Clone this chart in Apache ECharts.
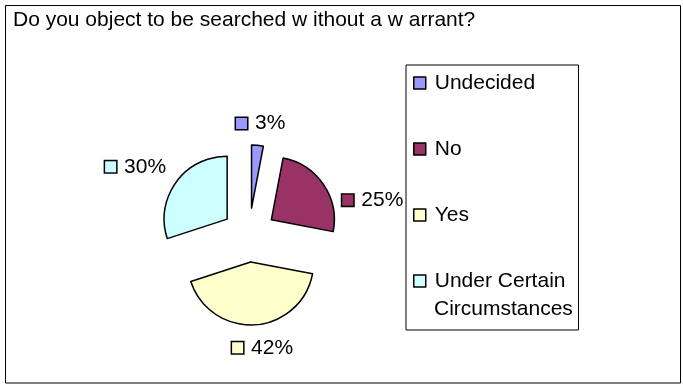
<!DOCTYPE html>
<html>
<head>
<meta charset="utf-8">
<script src="https://cdn.jsdelivr.net/npm/echarts@6/dist/echarts.min.js"></script>
<style>
  html, body { margin: 0; padding: 0; background: #fff; }
  #chart { width: 683px; height: 386px; }
</style>
</head>
<body>
<div id="chart"></div>
<script>
// Survey answers and their shares (percent)
const categories = ['Undecided', 'No', 'Yes', 'Under Certain\nCircumstances'];
const values = [3, 25, 42, 30];
const colors = ['#9999FF', '#993366', '#FFFFCC', '#CCFFFF'];
const titleText = 'Do you object to be searched w ithout a w arrant?';

const FONT = "'Liberation Sans', Arial, sans-serif";

// Where each percentage label sits relative to its exploded slice:
// radial reach beyond the rim, and horizontal nudge from that point.
const labelReach = [22, -28, 23, 26];
const labelNudge = [-23.5, 42, -24, -11];

const wrapped = categories.filter(n => n.indexOf('\n') >= 0);

const legendText = { fontFamily: FONT, fontSize: 21, color: '#000', lineHeight: 27, padding: [0, 0, 8, 4] };

const chart = echarts.init(document.getElementById('chart'), null, { renderer: 'canvas' });

const option = {
  animation: false,
  backgroundColor: '#fff',
  textStyle: { fontFamily: FONT },
  title: {
    text: titleText,
    left: 13,
    top: 8,
    padding: 0,
    textStyle: { fontFamily: FONT, fontSize: 21, fontWeight: 'normal', color: '#000', lineHeight: 24 }
  },
  graphic: [{
    type: 'rect',
    shape: { x: 5.5, y: 5.5, width: 675, height: 377.5 },
    style: { fill: 'none', stroke: '#000', lineWidth: 1 },
    silent: true
  }],
  legend: [{
    // framed legend: marker + first line of each entry
    orient: 'vertical',
    left: 406,
    top: 65,
    padding: [0.5, 13, 31.5, 7],
    itemGap: 31,
    itemWidth: 12,
    itemHeight: 12,
    icon: 'rect',
    borderColor: '#000',
    borderWidth: 1,
    selectedMode: false,
    itemStyle: { borderColor: '#000', borderWidth: 1.5 },
    textStyle: legendText,
    formatter: name => name.split('\n')[0],
    data: categories
  }, {
    // continuation line of wrapped entries, under their first line
    orient: 'vertical',
    left: 406,
    top: 291.5,
    padding: [0, 0, 0, 7],
    itemWidth: 12,
    itemHeight: 12,
    icon: 'none',
    selectedMode: false,
    textStyle: legendText,
    formatter: name => name.split('\n').slice(1).join('\n'),
    data: wrapped
  }],
  series: [{
    type: 'pie',
    center: [249, 235],
    radius: 63,
    startAngle: 90,
    clockwise: true,
    selectedMode: 'multiple',
    selectedOffset: 27,
    avoidLabelOverlap: false,
    itemStyle: { borderColor: '#000', borderWidth: 1.5 },
    emphasis: { disabled: true },
    labelLine: { show: false },
    label: {
      show: true,
      position: 'outside',
      formatter: '{sq|}{t|{c}%}',
      rich: {
        sq: { width: 11, height: 11, borderColor: '#000', borderWidth: 1.5, verticalAlign: 'middle' },
        t: { fontFamily: FONT, fontSize: 21, color: '#000', padding: [0, 0, 0, 8], verticalAlign: 'middle' }
      }
    },
    data: categories.map((n, i) => ({
      name: n,
      value: values[i],
      selected: true,
      itemStyle: { color: colors[i] },
      labelLine: { show: false, length: labelReach[i], length2: 0 },
      label: {
        distanceToLabelLine: labelNudge[i],
        rich: { sq: { backgroundColor: colors[i] } }
      }
    }))
  }]
};

chart.setOption(option);
</script>
</body>
</html>
